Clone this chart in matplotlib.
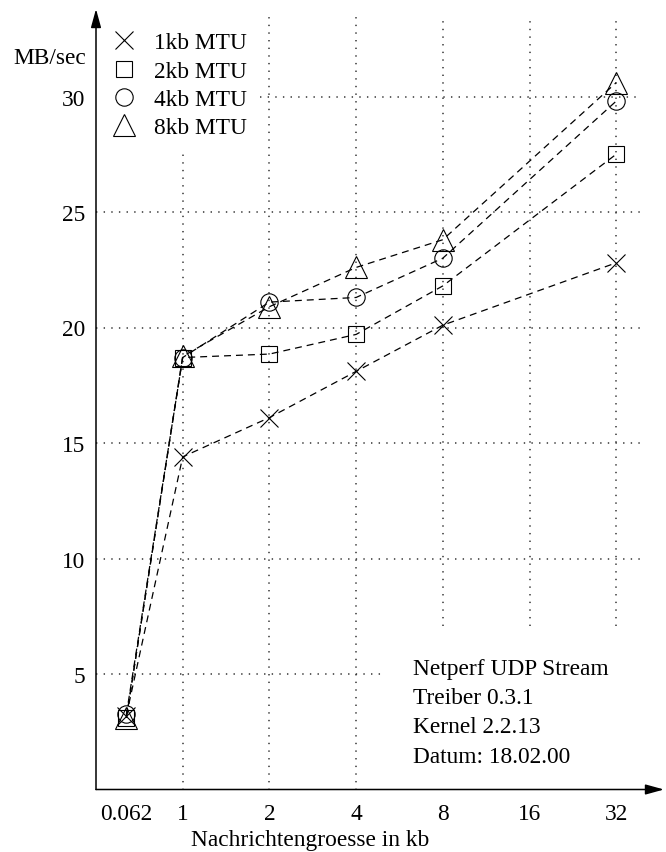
import matplotlib
matplotlib.use("Agg")
import matplotlib.pyplot as plt

plt.rcParams['font.family'] = ['Liberation Serif', 'DejaVu Serif']
plt.rcParams['lines.scale_dashes'] = False

# ---- data ----
categories = ['0.062', '1', '2', '4', '8', '16', '32']
cat_pos = [0.35, 1, 2, 3, 4, 5, 6]          # axis position of each category
point_cats = ['0.062', '1', '2', '4', '8', '32']
series_names = ['1kb MTU', '2kb MTU', '4kb MTU', '8kb MTU']
mtu_1kb = [3.2, 14.4, 16.1, 18.1, 20.1, 22.8]
mtu_2kb = [3.1, 18.7, 18.85, 19.7, 21.8, 27.5]
mtu_4kb = [3.25, 18.7, 21.1, 21.3, 23.0, 29.8]
mtu_8kb = [3.1, 18.75, 20.9, 22.6, 23.8, 30.6]
y_ticks = [5, 10, 15, 20, 25, 30]
info_lines = ['Netperf UDP Stream', 'Treiber 0.3.1', 'Kernel 2.2.13', 'Datum: 18.02.00']

FS = 16.8
W, H = 666, 853
fig = plt.figure(figsize=(W / 100, H / 100), dpi=100)
# axes: x=0 at px 96, y=0 at px 790.5 (from top)
ax_left, ax_right = 96, 664
ax_bottom_px, ax_top_px = 790.5, 10
ax = fig.add_axes([ax_left / W, (H - ax_bottom_px) / H,
                   (ax_right - ax_left) / W, (ax_bottom_px - ax_top_px) / H])
ax.set_xlim(0, (ax_right - ax_left) / 86.7)
ax.set_ylim(0, (ax_bottom_px - ax_top_px) / 23.1)

pos_of = dict(zip(categories, cat_pos))
xs = [pos_of[c] for c in point_cats]

# ---- grid (dotted, partially clipped like the original) ----
grid_kw = dict(color='#333333', lw=1.1, linestyle=(0, (1.0, 4.5)), zorder=1)
hx_end = 6.27
for yv in y_ticks:
    x0 = 1.89 if yv == 30 else 0
    x1 = 3.33 if yv == 5 else hx_end
    ax.plot([x0, x1], [yv, yv], **grid_kw)
for c in categories[1:]:
    xv = pos_of[c]
    if c == '1':
        y0, y1 = 0, 27.5
    elif c in ('2', '4'):
        y0, y1 = 0, 33.5
    else:
        y0, y1 = 7.08, 33.5
    ax.plot([xv, xv], [y0, y1], **grid_kw)

# ---- series ----
markers = ['x', 's', 'o', '^']
msizes = [12.5, 11.3, 12.5, 15.5]
all_series = [mtu_1kb, mtu_2kb, mtu_4kb, mtu_8kb]
handles = []
for name, vals, m, ms in zip(series_names, all_series, markers, msizes):
    ax.plot(xs, vals, color='black', lw=0.9, linestyle=(0, (5.0, 3.6)), zorder=3)
    h, = ax.plot(xs, vals, linestyle='none', marker=m, markersize=ms,
                 markerfacecolor='none', markeredgecolor='black',
                 markeredgewidth=0.8, zorder=4, label=name)
    handles.append(h)

# ---- axes styling ----
for s in ax.spines.values():
    s.set_visible(False)
ax.set_xticks(cat_pos)
ax.set_xticklabels(categories)
ax.set_yticks(y_ticks)
ax.tick_params(axis='both', length=0, labelsize=FS)
ax.tick_params(axis='y', pad=8)
ax.tick_params(axis='x', pad=10)

arrow = dict(arrowstyle='-|>,head_length=0.8,head_width=0.22', lw=1.1,
             color='black', mutation_scale=14, shrinkA=0, shrinkB=0)
ax.annotate('', xy=(0, 1), xytext=(0, 0), xycoords='axes fraction', arrowprops=arrow)
ax.annotate('', xy=(1, 0), xytext=(0, 0), xycoords='axes fraction', arrowprops=arrow)

fig.text(50 / W, 1 - 59 / H, 'MB/sec', ha='center', va='center', fontsize=FS)
fig.text(310 / W, 1 - 841 / H, 'Nachrichtengroesse in kb', ha='center', va='center', fontsize=FS)

for i, line in enumerate(info_lines):
    fig.text(413 / W, 1 - (669 + i * 29.5) / H, line, ha='left', va='center', fontsize=FS)

leg = ax.legend(handles=handles, loc='upper left',
                bbox_to_anchor=(112 / W, 1 - 33 / H), bbox_transform=fig.transFigure,
                frameon=False, fontsize=FS, handlelength=1.0, handletextpad=0.78,
                borderpad=0, borderaxespad=0, labelspacing=0.3, numpoints=1)

fig.savefig('out.png', dpi=100)
